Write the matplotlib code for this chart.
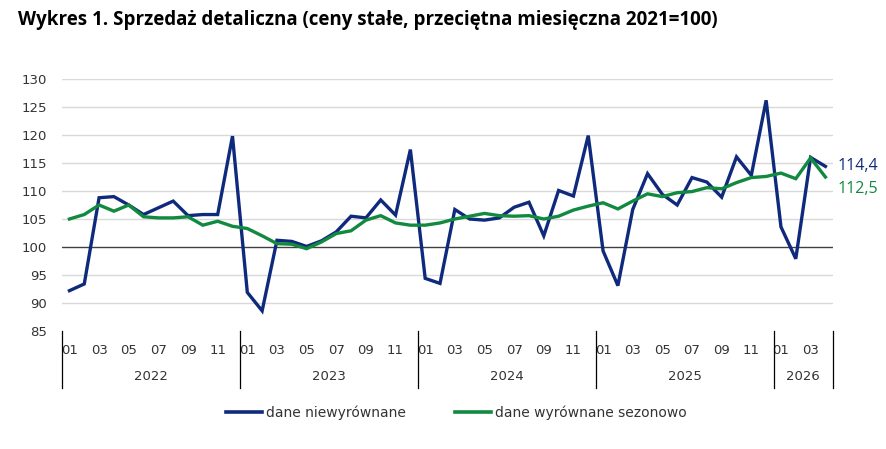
import matplotlib
matplotlib.use("Agg")
import matplotlib.pyplot as plt
from matplotlib.lines import Line2D
from matplotlib.transforms import blended_transform_factory

# monthly index 2022-01 .. 2026-04
YEARS = ["2022", "2023", "2024", "2025", "2026"]
MONTHS_PER_YEAR = [12, 12, 12, 12, 4]

nsa = [92.2, 93.4, 108.8, 109.0, 107.5, 105.8, 107.0, 108.2, 105.6, 105.8, 105.8, 119.8,
       91.9, 88.6, 101.2, 101.0, 100.1, 101.1, 102.7, 105.5, 105.2, 108.4, 105.7, 117.4,
       94.4, 93.5, 106.7, 105.0, 104.8, 105.2, 107.1, 108.0, 102.0, 110.1, 109.1, 119.9,
       99.3, 93.1, 106.7, 113.1, 109.4, 107.5, 112.4, 111.6, 108.9, 116.1, 112.8, 126.2,
       103.6, 97.9, 116.0, 114.4]
sa = [105.0, 105.8, 107.5, 106.4, 107.5, 105.4, 105.2, 105.2, 105.4, 103.9, 104.6, 103.7,
      103.3, 102.0, 100.6, 100.5, 99.7, 100.9, 102.4, 102.9, 104.8, 105.6, 104.3, 103.9,
      103.9, 104.3, 105.0, 105.5, 106.0, 105.6, 105.5, 105.6, 105.0, 105.5, 106.6, 107.3,
      107.9, 106.8, 108.2, 109.5, 109.0, 109.7, 109.9, 110.6, 110.4, 111.5, 112.4, 112.6,
      113.2, 112.2, 115.9, 112.5]

NAVY = "#0f2a7c"
GREEN = "#11893f"
TXT = "#333333"

plt.rcParams["font.family"] = ["DejaVu Sans"]

fig = plt.figure(figsize=(8.86, 4.49), dpi=100)
ax = fig.add_axes([0.070, 0.2628, 0.870, 0.5612])

xs = list(range(len(nsa)))
ax.plot(xs, nsa, color=NAVY, lw=2.4, solid_joinstyle="miter", zorder=3)
ax.plot(xs, sa, color=GREEN, lw=2.4, solid_joinstyle="miter", zorder=3)

ax.set_xlim(-0.5, len(nsa) - 0.5)
ax.set_ylim(85, 130)
ax.set_yticks(range(85, 131, 5))
for v in range(90, 131, 5):
    if v == 100:
        ax.axhline(v, color="#404040", lw=1.0, zorder=2)
    else:
        ax.axhline(v, color="#d9d9d9", lw=1.0, zorder=1)

for s in ax.spines.values():
    s.set_visible(False)
ax.tick_params(axis="y", length=0, labelsize=9.5, colors=TXT, pad=11)
ax.tick_params(axis="x", length=0, labelsize=9.5, colors=TXT, pad=9)

# month labels (odd months) and year groups
ticks, labels = [], []
i = 0
for n in MONTHS_PER_YEAR:
    for m in range(0, n, 2):
        ticks.append(i + m)
        labels.append(f"{m + 1:02d}")
    i += n
ax.set_xticks(ticks)
ax.set_xticklabels(labels)

tr = blended_transform_factory(ax.transData, ax.transAxes)
start = 0
edges = [-0.5]
for y, n in zip(YEARS, MONTHS_PER_YEAR):
    ax.text(start + (n - 1) / 2, -0.18, y, transform=tr, ha="center", va="center",
            fontsize=9.5, color=TXT)
    start += n
    edges.append(start - 0.5)
for e in edges:
    ax.plot([e, e], [0, -0.226], transform=tr, color="black", lw=0.9, clip_on=False)

# end labels
ax.text(len(nsa) - 0.5 + 0.3, 114.5, "114,4", color=NAVY, fontsize=11.5,
        va="center", ha="left", family=["Open Sans", "DejaVu Sans"])
ax.text(len(nsa) - 0.5 + 0.3, 110.3, "112,5", color=GREEN, fontsize=11.5,
        va="center", ha="left", family=["Open Sans", "DejaVu Sans"])

fig.text(0.02, 0.955, "Wykres 1. Sprzedaż detaliczna (ceny stałe, przeciętna miesięczna 2021=100)",
         fontsize=13.5, fontweight="bold", family=["Open Sans", "DejaVu Sans"], va="center")

handles = [Line2D([], [], color=NAVY, lw=2.6), Line2D([], [], color=GREEN, lw=2.6)]
fig.legend(handles, ["dane niewyrównane", "dane wyrównane sezonowo"], loc="center",
           bbox_to_anchor=(0.515, 0.08), ncol=2, frameon=False, fontsize=10,
           handlelength=2.6, handletextpad=0.3, columnspacing=3.5,
           labelcolor=TXT)

fig.savefig("out.png", dpi=100)
